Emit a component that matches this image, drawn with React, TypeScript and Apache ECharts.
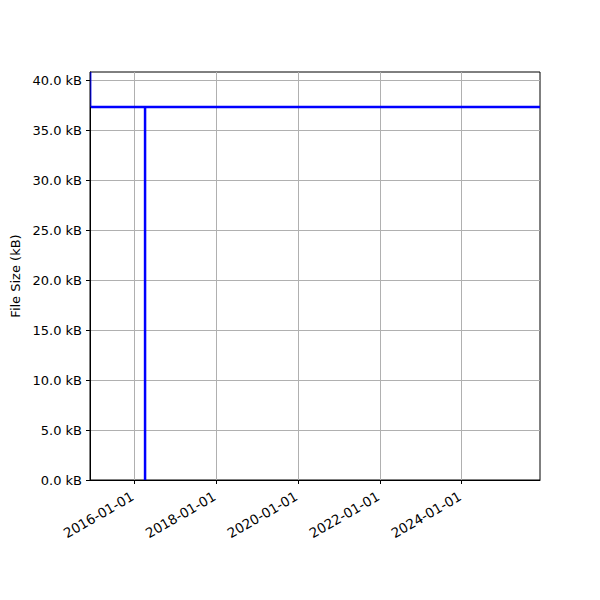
import React, { useEffect, useRef } from "react";
import * as echarts from "echarts";

const tickDates = ["2016-01-01", "2018-01-01", "2020-01-01", "2022-01-01", "2024-01-01"];
const edgeDates = ["2014-12-12", "2014-12-12"];
const edgeSizes = [40.8, 37.3];
const seriesDates = ["2014-12-12", "2016-04-08", "2016-04-08", "2016-04-08", "2025-11-29"];
const seriesSizes = [37.3, 37.3, 0, 37.3, 37.3];
const yTicks = [0, 5, 10, 15, 20, 25, 30, 35, 40];
const xMinDate = "2014-12-04";
const xMaxDate = "2025-11-29";
const yMax = 40.8;

const ts = (d: string) => {
  const [y, m, day] = d.split("-").map(Number);
  return Date.UTC(y, m - 1, day);
};

export default function App() {
  const ref = useRef<HTMLDivElement>(null);
  useEffect(() => {
    if (!ref.current) return;
    const chart = echarts.init(ref.current, undefined, { renderer: "svg" });
    const font = "DejaVu Sans";
    chart.setOption({
      animation: false,
      grid: {
        left: 90,
        right: 60,
        top: 72,
        bottom: 120,
        show: true,
        borderColor: "#000",
        borderWidth: 1,
        backgroundColor: "transparent",
      },
      xAxis: {
        type: "value",
        min: ts(xMinDate),
        max: ts(xMaxDate),
        axisLine: { show: true, lineStyle: { color: "#000", width: 1 } },
        axisTick: {
          show: true,
          length: 4,
          lineStyle: { color: "#000" },
          customValues: tickDates.map(ts),
        },
        axisLabel: {
          customValues: tickDates.map(ts),
          rotate: 30,
          fontFamily: font,
          fontSize: 13.5,
          color: "#000",
          margin: 14,
          padding: [0, 2, 0, 0],
          formatter: (v: number) => {
            const d = new Date(v);
            const p = (n: number) => String(n).padStart(2, "0");
            return `${d.getUTCFullYear()}-${p(d.getUTCMonth() + 1)}-${p(d.getUTCDate())}`;
          },
        },
        splitLine: { show: true, lineStyle: { color: "#b0b0b0", width: 1 } },
      },
      yAxis: {
        type: "value",
        min: 0,
        max: yMax,
        interval: 5,
        name: "File Size (kB)",
        nameLocation: "middle",
        nameGap: 67,
        nameTextStyle: { fontFamily: font, fontSize: 13, color: "#000" },
        axisLine: { show: true, lineStyle: { color: "#000", width: 1 } },
        axisTick: {
          show: true,
          length: 4,
          lineStyle: { color: "#000" },
          customValues: yTicks,
        },
        axisLabel: {
          customValues: yTicks,
          fontFamily: font,
          fontSize: 13,
          color: "#000",
          margin: 8,
          formatter: (v: number) => `${v.toFixed(1)} kB`,
        },
        splitLine: { show: true, lineStyle: { color: "#b0b0b0", width: 1 } },
      },
      series: [
        {
          type: "line",
          data: edgeDates.map((d, i) => [ts(d), edgeSizes[i]]),
          showSymbol: false,
          clip: true,
          lineStyle: { color: "#0000ff", width: 1, cap: "butt" },
        },
        {
          type: "line",
          data: seriesDates.map((d, i) => [ts(d), seriesSizes[i]]),
          showSymbol: false,
          clip: true,
          lineStyle: { color: "#0000ff", width: 2.5, cap: "butt" },
        },
      ],
    });
    return () => chart.dispose();
  }, []);
  return <div ref={ref} style={{ width: 600, height: 600, marginLeft: -8, marginTop: -8 }} />;
}
